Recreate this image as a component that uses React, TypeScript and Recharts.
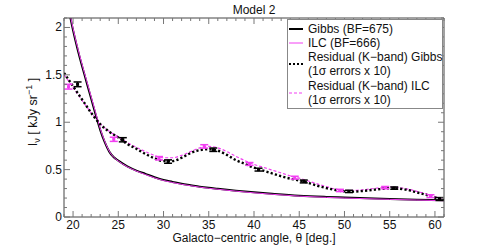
import React from "react";
import { ComposedChart, ErrorBar, Line, Scatter, XAxis, YAxis } from "recharts";

// model curves (fitted)
const modelAngles = [19, 19.5, 20, 20.5, 21, 21.5, 22, 22.5, 23, 23.5, 24, 24.5, 25, 26, 27, 28, 29, 30, 31, 32, 33, 34, 35, 36, 38, 40, 42, 45, 48, 50, 55, 58, 61];
const gibbsModel = [2.45, 2.2, 1.97, 1.77, 1.59, 1.42, 1.25, 1.08, 0.92, 0.79, 0.69, 0.63, 0.595, 0.535, 0.49, 0.455, 0.42, 0.39, 0.37, 0.35, 0.335, 0.32, 0.308, 0.298, 0.278, 0.26, 0.245, 0.225, 0.212, 0.205, 0.19, 0.183, 0.176];
const ilcModel = [2.47, 2.22, 1.99, 1.79, 1.61, 1.44, 1.27, 1.1, 0.935, 0.8, 0.695, 0.63, 0.59, 0.53, 0.485, 0.448, 0.414, 0.385, 0.364, 0.345, 0.33, 0.315, 0.303, 0.293, 0.273, 0.255, 0.24, 0.22, 0.207, 0.2, 0.186, 0.179, 0.172];

// K-band residuals
const residualAngles = [19, 20, 21, 22, 23, 24, 25, 26, 27, 28, 29, 30, 31, 32, 33, 34, 35, 36, 37, 38, 39, 40, 41, 42, 43, 44, 45, 46, 47, 48, 49, 50, 51, 52, 53, 54, 55, 56, 57, 58, 59, 60, 61];
const gibbsResidual = [1.52, 1.38, 1.24, 1.1, 0.98, 0.9, 0.84, 0.77, 0.72, 0.665, 0.62, 0.59, 0.59, 0.625, 0.675, 0.705, 0.715, 0.7, 0.655, 0.6, 0.56, 0.52, 0.49, 0.46, 0.43, 0.405, 0.385, 0.36, 0.33, 0.305, 0.285, 0.27, 0.268, 0.275, 0.285, 0.295, 0.303, 0.3, 0.285, 0.26, 0.235, 0.205, 0.18];
const ilcResidual = [1.5, 1.37, 1.23, 1.1, 0.985, 0.905, 0.845, 0.785, 0.735, 0.69, 0.65, 0.625, 0.625, 0.65, 0.69, 0.73, 0.745, 0.73, 0.69, 0.64, 0.595, 0.555, 0.525, 0.495, 0.465, 0.435, 0.41, 0.38, 0.35, 0.32, 0.295, 0.282, 0.28, 0.287, 0.298, 0.31, 0.315, 0.31, 0.295, 0.27, 0.245, 0.215, 0.19];

// binned points, 1 sigma x 10
const gibbsPointAngles = [20.5, 25.5, 30.5, 35.5, 40.5, 45.5, 50.5, 55.5, 60.5];
const gibbsPoints = [1.4, 0.815, 0.585, 0.71, 0.5, 0.375, 0.27, 0.305, 0.19];
const gibbsErrors = [0.025, 0.022, 0.018, 0.018, 0.015, 0.015, 0.012, 0.012, 0.015];
const ilcPointAngles = [19.5, 24.5, 29.5, 34.5, 39.5, 44.5, 49.5, 54.5, 59.5];
const ilcPoints = [1.375, 0.82, 0.62, 0.745, 0.56, 0.415, 0.28, 0.31, 0.22];
const ilcErrors = [0.025, 0.022, 0.018, 0.018, 0.015, 0.015, 0.012, 0.012, 0.015];

const xTicks = [19, 20, 21, 22, 23, 24, 25, 26, 27, 28, 29, 30, 31, 32, 33, 34, 35, 36, 37, 38, 39, 40, 41, 42, 43, 44, 45, 46, 47, 48, 49, 50, 51, 52, 53, 54, 55, 56, 57, 58, 59, 60, 61];
const xMajor = [20, 25, 30, 35, 40, 45, 50, 55, 60];
const yTicks = [0, 0.1, 0.2, 0.3, 0.4, 0.5, 0.6, 0.7, 0.8, 0.9, 1, 1.1, 1.2, 1.3, 1.4, 1.5, 1.6, 1.7, 1.8, 1.9, 2, 2.1];
const yMajor = [0, 0.5, 1, 1.5, 2];
const yMajorLabels = ["0", "0.5", "1", "1.5", "2"];

const MAGENTA = "#f23ff2";
const FRAME = "#444";
const TICK = "#777";
const FONT = "'Liberation Sans', Arial, sans-serif";

const line = (xs: number[], ys: number[]) => xs.map((x, i) => ({ x, y: ys[i] }));
const points = (xs: number[], ys: number[], es: number[]) =>
  xs.map((x, i) => ({ x, y: ys[i], err: es[i] }));

function BottomTick(props: any) {
  const { x, y, payload } = props;
  const major = xMajor.includes(payload.value);
  return (
    <g>
      <line x1={x} x2={x} y1={y} y2={y - (major ? 6 : 3)} stroke={TICK} />
      {major && (
        <text x={x} y={y + 12} textAnchor="middle" fontSize={12} fontFamily={FONT} fill="#111">
          {payload.value}
        </text>
      )}
    </g>
  );
}

function TopTick(props: any) {
  const { x, y, payload } = props;
  const major = xMajor.includes(payload.value);
  return <line x1={x} x2={x} y1={y} y2={y + (major ? 6 : 3)} stroke={TICK} />;
}

function LeftTick(props: any) {
  const { x, y, payload } = props;
  const idx = yMajor.indexOf(payload.value);
  return (
    <g>
      <line x1={x} x2={x + (idx >= 0 ? 6 : 3)} y1={y} y2={y} stroke={TICK} />
      {idx >= 0 && (
        <text x={x - 2} y={y + 4} textAnchor="end" fontSize={12} fontFamily={FONT} fill="#111">
          {yMajorLabels[idx]}
        </text>
      )}
    </g>
  );
}

function RightTick(props: any) {
  const { x, y, payload } = props;
  const major = yMajor.includes(payload.value);
  return <line x1={x} x2={x - (major ? 6 : 3)} y1={y} y2={y} stroke={TICK} />;
}

const Dot = (color: string) => (props: any) => (
  <rect x={props.cx - 1.5} y={props.cy - 1.5} width={3} height={3} fill={color} />
);

function LegendBox() {
  const rows = [
    { y: 10, text: ["Gibbs (BF=675)"], stroke: "#000", w: 2, dash: undefined },
    { y: 24, text: ["ILC (BF=666)"], stroke: MAGENTA, w: 1, dash: undefined },
    { y: 38, text: ["Residual (K\u2212band) Gibbs", "(1\u03c3 errors x 10)"], stroke: "#000", w: 2.2, dash: "2 2" },
    { y: 67, text: ["Residual (K\u2212band) ILC", "(1\u03c3 errors x 10)"], stroke: MAGENTA, w: 1, dash: "3 2" },
  ];
  return (
    <svg width={156} height={90} style={{ position: "absolute", left: 287, top: 19 }}>
      <rect x={0.5} y={0.5} width={155} height={89} fill="#fff" stroke="#888" />
      {rows.map((r, i) => {
        const ly = r.y + (r.text.length > 1 ? 7 : 0);
        return (
          <g key={i}>
            <line x1={2} x2={16} y1={ly} y2={ly} stroke={r.stroke} strokeWidth={r.w} strokeDasharray={r.dash} />
            {r.text.map((t, j) => (
              <text key={j} x={21} y={r.y + 4 + j * 14} fontSize={12} fontFamily={FONT} fill="#111">
                {t}
              </text>
            ))}
          </g>
        );
      })}
    </svg>
  );
}

export default function App() {
  return (
    <div style={{ position: "absolute", left: 0, top: 0, width: 491, height: 245, background: "#fff" }}>
      <ComposedChart width={491} height={245} margin={{ top: 17, right: 46, bottom: 27, left: 63 }}>
        <XAxis xAxisId="b" dataKey="x" type="number" domain={[19, 61]} ticks={xTicks} interval={0}
          height={1} tickSize={0} tickMargin={0} tickLine={false} tick={BottomTick}
          axisLine={{ stroke: FRAME }} allowDataOverflow />
        <XAxis xAxisId="t" orientation="top" dataKey="x" type="number" domain={[19, 61]} ticks={xTicks} interval={0}
          height={1} tickSize={0} tickMargin={0} tickLine={false} tick={TopTick}
          axisLine={{ stroke: FRAME }} allowDataOverflow />
        <YAxis yAxisId="l" dataKey="y" type="number" domain={[0, 2.1]} ticks={yTicks} interval={0}
          width={1} tickSize={0} tickMargin={0} tickLine={false} tick={LeftTick}
          axisLine={{ stroke: FRAME }} allowDataOverflow />
        <YAxis yAxisId="r" orientation="right" dataKey="y" type="number" domain={[0, 2.1]} ticks={yTicks} interval={0}
          width={1} tickSize={0} tickMargin={0} tickLine={false} tick={RightTick}
          axisLine={{ stroke: FRAME }} allowDataOverflow />

        <Line xAxisId="b" yAxisId="l" data={line(modelAngles, gibbsModel)} dataKey="y" type="monotone"
          stroke="#000" strokeWidth={2} dot={false} isAnimationActive={false} />
        <Line xAxisId="b" yAxisId="l" data={line(modelAngles, ilcModel)} dataKey="y" type="monotone"
          stroke={MAGENTA} strokeWidth={1} dot={false} isAnimationActive={false} />
        <Line xAxisId="b" yAxisId="l" data={line(residualAngles, ilcResidual)} dataKey="y" type="monotone"
          stroke={MAGENTA} strokeWidth={1.2} strokeDasharray="3 2" dot={false} isAnimationActive={false} />
        <Line xAxisId="b" yAxisId="l" data={line(residualAngles, gibbsResidual)} dataKey="y" type="monotone"
          stroke="#000" strokeWidth={2.4} strokeDasharray="2.2 2.2" dot={false} isAnimationActive={false} />

        <Scatter xAxisId="b" yAxisId="l" data={points(ilcPointAngles, ilcPoints, ilcErrors)} dataKey="y"
          shape={Dot(MAGENTA)} isAnimationActive={false}>
          <ErrorBar dataKey="err" direction="y" width={4} stroke={MAGENTA} strokeWidth={1.5} isAnimationActive={false} />
        </Scatter>
        <Scatter xAxisId="b" yAxisId="l" data={points(gibbsPointAngles, gibbsPoints, gibbsErrors)} dataKey="y"
          shape={Dot("#000")} isAnimationActive={false}>
          <ErrorBar dataKey="err" direction="y" width={4} stroke="#000" strokeWidth={1.5} isAnimationActive={false} />
        </Scatter>
      </ComposedChart>

      <svg width={491} height={245} style={{ position: "absolute", left: 0, top: 0, pointerEvents: "none" }}>
        <text x={254} y={14} textAnchor="middle" fontSize={12} fontFamily={FONT} fill="#111">Model 2</text>
        <text x={254} y={242} textAnchor="middle" fontSize={12} fontFamily={FONT} fill="#111">
          Galacto{"\u2212"}centric angle, {"\u03b8"} [deg.]
        </text>
        <text transform="translate(37,112) rotate(-90)" textAnchor="middle" fontSize={12.5} fontFamily={FONT} fill="#111">
          I<tspan dy={3} fontSize={9}>{"\u03bd"}</tspan>
          <tspan dy={-3}>{"  [ kJy sr"}</tspan>
          <tspan dy={-5} fontSize={9}>{"\u22121"}</tspan>
          <tspan dy={5}>{" ]"}</tspan>
        </text>
      </svg>
      <LegendBox />
    </div>
  );
}
